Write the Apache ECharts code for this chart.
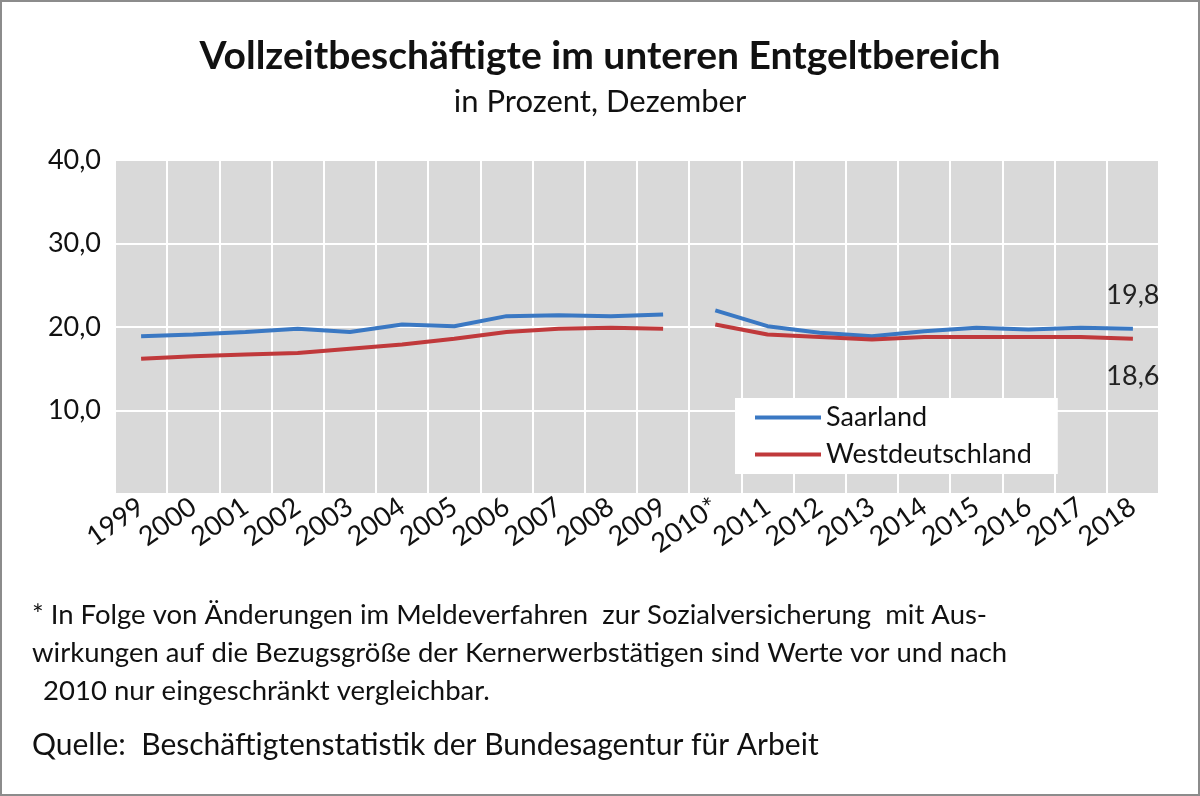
<!DOCTYPE html>
<html>
<head>
<meta charset="utf-8">
<script src="https://cdn.jsdelivr.net/npm/echarts@6/dist/echarts.min.js"></script>
<style>
html,body{margin:0;padding:0;background:#fff;}
#main{width:1200px;height:796px;box-sizing:border-box;border:2px solid #8c8c8c;}
</style>
</head>
<body>
<div id="main"></div>
<script>
var years = ['1999','2000','2001','2002','2003','2004','2005','2006','2007','2008','2009','2010*','2011','2012','2013','2014','2015','2016','2017','2018'];
var saarland = [18.9, 19.1, 19.4, 19.8, 19.4, 20.3, 20.1, 21.3, 21.4, 21.3, 21.5, 22.0, 20.1, 19.3, 18.9, 19.5, 19.9, 19.7, 19.9, 19.8];
var west = [16.2, 16.5, 16.7, 16.9, 17.4, 17.9, 18.6, 19.4, 19.8, 19.9, 19.8, 20.3, 19.1, 18.8, 18.5, 18.8, 18.8, 18.8, 18.8, 18.6];
var breakIndex = 11; // Bruch zwischen 2009 und 2010*

var myChart = echarts.init(document.getElementById('main'));

// Reihe in zwei Teile schneiden, damit 2009 und 2010 nicht verbunden sind
function part(arr, first) {
    return arr.map(function (v, i) {
        return (first ? i < breakIndex : i >= breakIndex) ? v : null;
    });
}
function fmt(v) { return v.toFixed(1).replace('.', ','); }

function lastLabel(arr, pos, dy) {
    return {
        show: true,
        position: pos,
        distance: dy,
        fontFamily: 'Lato',
        fontSize: 27,
        color: '#222',
        formatter: function (p) {
            return p.dataIndex === arr.length - 1 ? fmt(p.value) : '';
        }
    };
}

function mkSeries(name, arr, color, first, label) {
    return {
        name: name,
        type: 'line',
        data: part(arr, first),
        showSymbol: !first,
        symbol: 'circle',
        symbolSize: 0.1,
        connectNulls: false,
        lineStyle: {color: color, width: 4},
        itemStyle: {color: color},
        label: first ? {show: false} : label,
        z: 3
    };
}

var option = {
    animation: false,
    title: {
        text: 'Vollzeitbeschäftigte im unteren Entgeltbereich',
        subtext: 'in Prozent, Dezember',
        left: 'center',
        top: 30,
        itemGap: 10,
        textStyle: {fontFamily: 'Lato', fontSize: 39, fontWeight: 'bold', color: '#111'},
        subtextStyle: {fontFamily: 'Lato', fontSize: 31, color: '#111'}
    },
    legend: {
        data: [
            {name: 'Saarland', icon: 'rect'},
            {name: 'Westdeutschland', icon: 'rect'}
        ],
        orient: 'vertical',
        left: 733,
        top: 396,
        itemWidth: 66,
        itemHeight: 4,
        itemGap: 10,
        padding: [6, 26, 6, 20],
        backgroundColor: '#fff',
        textStyle: {fontFamily: 'Lato', fontSize: 27, color: '#111'}
    },
    grid: {left: 113, right: 39, top: 158, bottom: 300, backgroundColor: '#d9d9d9', show: true, borderWidth: 0},
    xAxis: {
        type: 'category',
        data: years,
        boundaryGap: true,
        axisLine: {show: false},
        axisTick: {show: false},
        splitLine: {show: true, lineStyle: {color: '#fff', width: 2}},
        axisLabel: {
            rotate: 35,
            interval: 0,
            margin: 10,
            fontFamily: 'Lato',
            fontSize: 27,
            color: '#111'
        }
    },
    yAxis: {
        type: 'value',
        min: 0,
        max: 40,
        interval: 10,
        axisLine: {show: false},
        axisTick: {show: false},
        splitLine: {lineStyle: {color: '#fff', width: 2}},
        axisLabel: {
            margin: 14,
            fontFamily: 'Lato',
            fontSize: 27,
            color: '#111',
            formatter: function (v) { return v === 0 ? '' : fmt(v); }
        }
    },
    series: [
        mkSeries('Saarland', saarland, '#3a78c3', true),
        mkSeries('Saarland', saarland, '#3a78c3', false, lastLabel(saarland, 'top', 20)),
        mkSeries('Westdeutschland', west, '#c0393b', true),
        mkSeries('Westdeutschland', west, '#c0393b', false, lastLabel(west, 'bottom', 24))
    ],
    graphic: [
        {type: 'text', left: 30, top: 599, style: {text: '* In Folge von Änderungen im Meldeverfahren  zur Sozialversicherung  mit Aus-', fontFamily: 'Lato', fontSize: 27.5, fill: '#111'}},
        {type: 'text', left: 30, top: 637, style: {text: 'wirkungen auf die Bezugsgröße der Kernerwerbstätigen sind Werte vor und nach', fontFamily: 'Lato', fontSize: 27.5, fill: '#111'}},
        {type: 'text', left: 34, top: 675, style: {text: ' 2010 nur eingeschränkt vergleichbar.', fontFamily: 'Lato', fontSize: 27.5, fill: '#111'}},
        {type: 'text', left: 30, top: 728, style: {text: 'Quelle:  Beschäftigtenstatistik der Bundesagentur für Arbeit', fontFamily: 'Lato', fontSize: 30, fill: '#111'}}
    ]
};
myChart.setOption(option);
</script>
</body>
</html>
